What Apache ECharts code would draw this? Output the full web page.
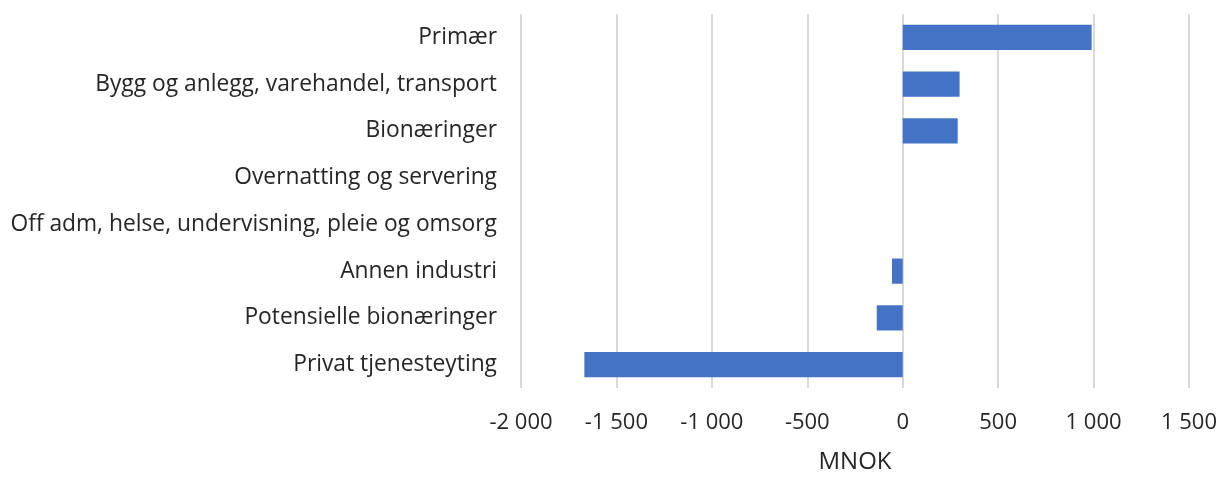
<!DOCTYPE html>
<html>
<head>
<meta charset="utf-8">
<script src="https://cdn.jsdelivr.net/npm/echarts@6/dist/echarts.min.js"></script>
<style>
  html, body { margin: 0; padding: 0; background: #fff; overflow: hidden; }
  #chart { width: 1226px; height: 479px; }
</style>
</head>
<body>
<div id="chart"></div>
<script>
// kategorier (øverst til nederst)
const categories = [
  'Primær',
  'Bygg og anlegg, varehandel, transport',
  'Bionæringer',
  'Overnatting og servering',
  'Off adm, helse, undervisning, pleie og omsorg',
  'Annen industri',
  'Potensielle bionæringer',
  'Privat tjenesteyting'
]
// verdier i MNOK
const values = [990, 298, 288, 0, 0, -56, -136, -1668]

const xMin = -2000
const xMax = 1500
const xStep = 500

// tusenskille med mellomrom
const fmt = (v) => {
  const s = Math.abs(v).toString().replace(/\B(?=(\d{3})+(?!\d))/g, ' ')
  return (v < 0 ? '-' : '') + s
}

const chart = echarts.init(document.getElementById('chart'))
const fontFamily = '"Open Sans", Lato, sans-serif'

chart.setOption({
  animation: false,
  textStyle: { fontFamily },
  grid: { left: 521, right: 37, top: 14, bottom: 86 },
  xAxis: {
    type: 'value',
    min: xMin,
    max: xMax,
    interval: xStep,
    name: 'MNOK',
    nameLocation: 'middle',
    nameGap: 62,
    nameTextStyle: { fontSize: 24, color: '#262626', fontFamily },
    axisLine: { show: false },
    axisTick: { show: false },
    axisLabel: { formatter: fmt, fontSize: 22, color: '#262626', margin: 24, fontFamily },
    splitLine: { lineStyle: { color: '#d9d9d9', width: 2 } }
  },
  yAxis: {
    type: 'category',
    data: categories,
    inverse: true,
    axisLine: { show: false },
    axisTick: { show: false },
    axisLabel: { fontSize: 22.8, color: '#262626', margin: 24, fontFamily }
  },
  series: [{
    type: 'bar',
    data: values,
    barCategoryGap: '46%',
    itemStyle: { color: '#4472c4' }
  }]
})
</script>
</body>
</html>
